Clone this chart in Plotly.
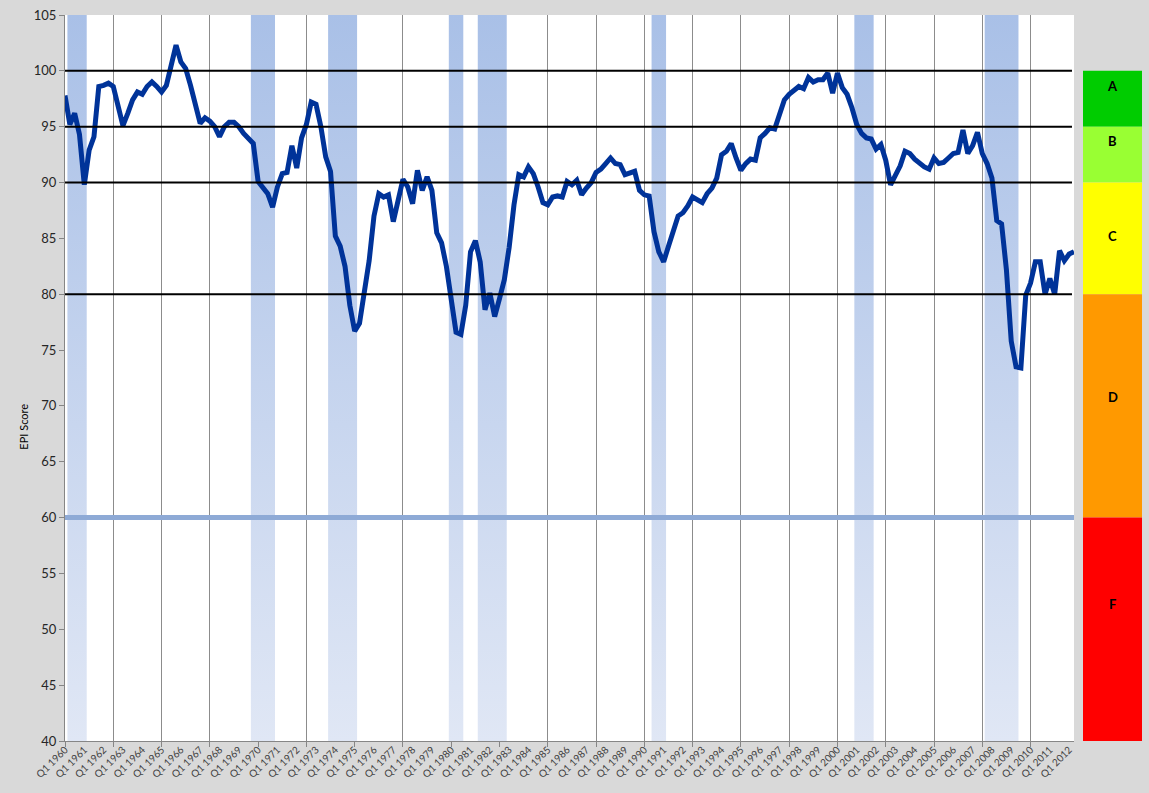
import plotly.graph_objects as go

# EPI score, quarterly from Q1 1960
epi_score = [
    97.8, 95.2, 96.2, 94.3, 89.8, 92.9, 94.1, 98.6, 98.7, 98.9,
    98.6, 96.8, 95.1, 96.2, 97.4, 98.1, 97.9, 98.6, 99.0, 98.6,
    98.1, 98.7, 100.4, 102.3, 100.8, 100.2, 98.7, 96.8, 95.3, 95.8,
    95.5, 95.0, 94.1, 95.0, 95.4, 95.4, 95.0, 94.4, 94.0, 93.5,
    90.1, 89.5, 89.0, 87.8, 89.6, 90.8, 90.9, 93.3, 91.3, 94.0,
    95.2, 97.2, 97.0, 95.0, 92.3, 91.0, 85.2, 84.3, 82.5, 79.0,
    76.7, 77.4, 80.5, 83.0, 87.0, 89.0, 88.7, 88.9, 86.5, 88.4,
    90.3, 89.6, 88.1, 91.1, 89.3, 90.5, 89.3, 85.5, 84.6, 82.5,
    79.5, 76.6, 76.4, 79.0, 83.8, 84.8, 82.9, 78.6, 80.1, 78.0,
    79.6, 81.3, 84.2, 88.0, 90.7, 90.5, 91.4, 90.8, 89.6, 88.2,
    88.0, 88.7, 88.8, 88.7, 90.1, 89.8, 90.2, 88.9, 89.5, 90.0,
    90.9, 91.2, 91.7, 92.2, 91.7, 91.6, 90.7, 90.9, 91.0, 89.3,
    88.9, 88.8, 85.6, 83.8, 82.9, 84.3, 85.5, 87.0, 87.3, 87.9,
    88.7, 88.5, 88.2, 89.0, 89.5, 90.4, 92.5, 92.8, 93.5, 92.2,
    91.1, 91.7, 92.1, 92.0, 94.0, 94.4, 94.9, 94.8, 96.2, 97.4,
    97.9, 98.3, 98.6, 98.4, 99.4, 99.0, 99.2, 99.2, 99.8, 98.0,
    99.8, 98.5, 97.9, 96.7, 95.2, 94.4, 94.0, 93.9, 93.0, 93.4,
    92.0, 89.8, 90.6, 91.5, 92.8, 92.6, 92.1, 91.7, 91.4, 91.2,
    92.2, 91.7, 91.8, 92.2, 92.6, 92.7, 94.7, 92.6, 93.3, 94.5,
    92.6, 91.7, 90.4, 86.6, 86.3, 82.2, 75.8, 73.5, 73.4, 79.9,
    81.0, 82.9, 82.9, 80.0, 81.4, 80.0, 83.9, 83.0, 83.6, 83.8,
]

quarters = [f"Q{q} {y}" for y in range(1960, 2013) for q in range(1, 5)][:len(epi_score)]

# recessions (first and last quarter shaded)
recessions = [
    ("Q2 1960", "Q1 1961"),
    ("Q4 1969", "Q4 1970"),
    ("Q4 1973", "Q1 1975"),
    ("Q1 1980", "Q3 1980"),
    ("Q3 1981", "Q4 1982"),
    ("Q3 1990", "Q1 1991"),
    ("Q1 2001", "Q4 2001"),
    ("Q4 2007", "Q2 2009"),
]

# grade bands on the right
grades = ["A", "B", "C", "D", "F"]
grade_low = [95, 90, 80, 60, 40]
grade_high = [100, 95, 90, 80, 60]
grade_colors = ["#00cc00", "#99ff33", "#ffff00", "#ff9900", "#ff0000"]
grade_label_y = [98.6, 93.7, 85.2, 70.8, 52.3]

black_lines = [80, 90, 95, 100]
floor_line = 60

y_min, y_max = 40, 105
font = "Lato, 'Liberation Sans', sans-serif"

idx = list(range(len(epi_score)))
pos = {q: i for i, q in enumerate(quarters)}
year_labels = [q for q in quarters if q.startswith("Q1")]

fig = go.Figure()

# recession bands - vertical gradient, darker at the top
for start, end in recessions:
    x0 = pos[start] - 0.5
    x1 = pos[end] + 0.5
    fig.add_trace(go.Scatter(
        x=[x0, x1, x1, x0, x0],
        y=[y_min, y_min, y_max, y_max, y_min],
        mode="lines",
        line_width=0,
        fill="toself",
        fillgradient=dict(type="vertical",
                          colorscale=[[0, "#e0e7f5"], [1, "#a9c0e7"]],
                          start=y_min, stop=y_max),
        hoverinfo="skip",
        showlegend=False,
    ))

fig.add_trace(go.Scatter(
    x=idx, y=epi_score,
    customdata=quarters,
    mode="lines",
    line=dict(color="#003399", width=5),
    hovertemplate="%{customdata}<br>%{y}<extra></extra>",
    showlegend=False,
))

# invisible trace so the label axis gets drawn
fig.add_trace(go.Scatter(
    x=[idx[0], idx[-1]], y=[y_min, y_min], xaxis="x3", yaxis="y",
    mode="markers", marker_opacity=0, hoverinfo="skip", showlegend=False,
))

# grade bar
fig.add_trace(go.Bar(
    x=[0] * len(grades),
    y=[h - l for h, l in zip(grade_high, grade_low)],
    base=grade_low,
    width=1,
    marker=dict(color=grade_colors, line_width=0),
    xaxis="x2", yaxis="y",
    hoverinfo="skip",
    showlegend=False,
))

for g, gy in zip(grades, grade_label_y):
    fig.add_annotation(x=0, y=gy, xref="x2", yref="y", text="<b>" + g + "</b>", showarrow=False,
                       font=dict(family=font, size=13, color="black"))

shapes = [dict(type="rect", xref="x domain", yref="y domain", x0=0, x1=1, y0=0, y1=1,
               fillcolor="white", line_width=0, layer="below")]
for v in black_lines:
    shapes.append(dict(type="line", xref="x domain", yref="y", x0=0, x1=0.998, y0=v, y1=v,
                       line=dict(color="black", width=2), layer="above"))
shapes.append(dict(type="line", xref="x domain", yref="y", x0=0, x1=1, y0=floor_line, y1=floor_line,
                   line=dict(color="#8eaad6", width=5), layer="above"))

W, H = 1149, 793
ml, mr, mt, mb = 65, 7, 15, 52
pw = W - ml - mr
main_end = (1074 - ml) / pw
bar_start = (1083 - ml) / pw

fig.add_annotation(text="EPI Score", xref="paper", yref="y", x=(15 - ml) / pw, y=68.1,
                   textangle=-90, showarrow=False, font=dict(family=font, size=11, color="black"))

fig.update_layout(
    width=W, height=H,
    margin=dict(l=ml, r=mr, t=mt, b=mb),
    paper_bgcolor="#d9d9d9",
    plot_bgcolor="#d9d9d9",
    font=dict(family=font, color="#404040"),
    barmode="overlay",
    shapes=shapes,
    # gridline axis
    xaxis=dict(domain=[0, main_end], range=[0, len(epi_score) - 1],
               tickmode="array", tickvals=list(range(0, len(epi_score), 10)),
               showticklabels=False, ticks="outside", ticklen=5, tickcolor="#868686",
               showgrid=True, gridcolor="#8c8c8c", gridwidth=1,
               showline=True, linecolor="#868686", linewidth=1, zeroline=False),
    # quarter labels
    xaxis3=dict(overlaying="x", anchor="y", side="bottom", range=[0, len(epi_score) - 1],
                tickmode="array", tickvals=[pos[q] for q in year_labels],
                ticktext=year_labels,
                tickangle=-45, tickfont=dict(size=10, color="#404040"),
                showgrid=False, zeroline=False, showline=False, ticks=""),
    xaxis2=dict(domain=[bar_start, 1], range=[-0.5, 0.5], anchor="y",
                visible=False, showgrid=False, zeroline=False),
    yaxis=dict(range=[y_min, y_max], tickmode="linear", tick0=40, dtick=5,
               ticks="outside", ticklen=5, tickcolor="#868686",
               tickfont=dict(size=13, color="#262626"),
               showgrid=False, zeroline=False,
               showline=True, linecolor="#868686", linewidth=1),
)

fig.write_html("out.html", config={"displayModeBar": False},
               post_script="document.body.style.margin='0';")
